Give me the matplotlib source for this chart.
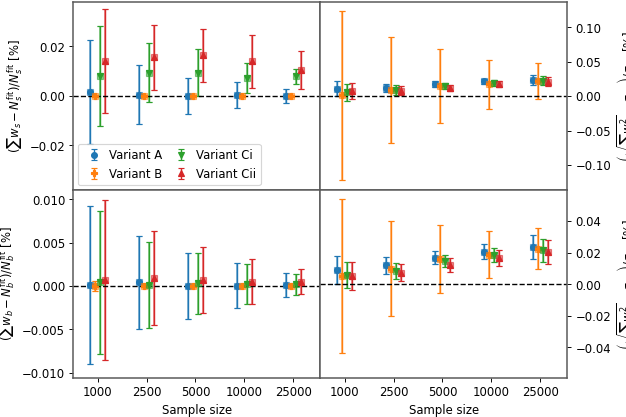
import numpy as np
import matplotlib
matplotlib.use("Agg")
import matplotlib.pyplot as plt

sample_sizes = ["1000", "2500", "5000", "10000", "25000"]
variants = ["Variant A", "Variant B", "Variant Ci", "Variant Cii"]
colors = ["#1f77b4", "#ff7f0e", "#2ca02c", "#d62728"]
markers = ["o", "P", "v", "^"]

# top left: signal yield bias
sig_yield = [
    [0.0016, 0.0005, 0.0000, 0.0003, -0.0001],
    [0.0000, 0.0000, 0.0000, 0.0000, 0.0000],
    [0.0080, 0.0093, 0.0092, 0.0073, 0.0078],
    [0.0140, 0.0155, 0.0163, 0.0139, 0.0105],
]
sig_yield_err = [
    [0.0210, 0.0119, 0.0073, 0.0053, 0.0028],
    [0.0005, 0.0003, 0.0002, 0.0002, 0.0001],
    [0.0201, 0.0119, 0.0095, 0.0061, 0.0032],
    [0.0210, 0.0132, 0.0108, 0.0107, 0.0076],
]

# bottom left: background yield bias
bkg_yield = [
    [0.0001, 0.0004, 0.0000, 0.0000, 0.0001],
    [0.0000, 0.0000, 0.0000, 0.0000, 0.0000],
    [0.0004, 0.0001, 0.0003, 0.0002, 0.0002],
    [0.0007, 0.0009, 0.0007, 0.0005, 0.0005],
]
bkg_yield_err = [
    [0.0091, 0.0054, 0.0038, 0.0026, 0.00135],
    [0.0006, 0.0001, 0.0001, 0.0001, 0.0001],
    [0.0082, 0.0050, 0.0035, 0.0023, 0.0012],
    [0.0092, 0.0054, 0.0038, 0.0026, 0.0014],
]

# top right: signal uncertainty bias
sig_unc = [
    [0.0107, 0.0122, 0.0170, 0.0215, 0.0234],
    [0.0010, 0.0093, 0.0146, 0.0170, 0.0215],
    [0.0054, 0.0093, 0.0146, 0.0190, 0.0224],
    [0.0073, 0.0078, 0.0117, 0.0170, 0.0210],
]
sig_unc_err = [
    [0.0107, 0.0056, 0.0043, 0.0037, 0.0070],
    [0.1230, 0.0770, 0.0540, 0.0360, 0.0260],
    [0.0120, 0.0070, 0.0045, 0.0042, 0.0070],
    [0.0110, 0.0065, 0.0040, 0.0044, 0.0066],
]

# bottom right: background uncertainty bias
bkg_unc = [
    [0.0091, 0.0119, 0.0169, 0.0205, 0.0235],
    [0.0053, 0.0099, 0.0159, 0.0188, 0.0224],
    [0.0059, 0.0085, 0.0146, 0.0184, 0.0214],
    [0.0053, 0.0074, 0.0123, 0.0165, 0.0203],
]
bkg_unc_err = [
    [0.0090, 0.0055, 0.0044, 0.0047, 0.0076],
    [0.0487, 0.0300, 0.0213, 0.0150, 0.0130],
    [0.0083, 0.0052, 0.0040, 0.0046, 0.0075],
    [0.0090, 0.0056, 0.0046, 0.0049, 0.0076],
]

offsets = [-0.15, -0.05, 0.05, 0.15]

fig, axes = plt.subplots(2, 2, figsize=(7.5, 5), dpi=626 / 7.5, sharex=True)
fig.subplots_adjust(left=0.117, right=0.906, top=0.995, bottom=0.094,
                    wspace=0, hspace=0)

panels = [
    (axes[0, 0], sig_yield, sig_yield_err, (-0.038, 0.038), [-0.02, 0.0, 0.02], "{:.2f}",
     r"$(\sum w_s - N_s^{\mathrm{fit}})/N_s^{\mathrm{fit}}$ [%]"),
    (axes[1, 0], bkg_yield, bkg_yield_err, (-0.0106, 0.0111), [-0.01, -0.005, 0.0, 0.005, 0.01], "{:.3f}",
     r"$(\sum w_b - N_b^{\mathrm{fit}})/N_b^{\mathrm{fit}}$ [%]"),
    (axes[0, 1], sig_unc, sig_unc_err, (-0.136, 0.137), [-0.10, -0.05, 0.0, 0.05, 0.10], "{:.2f}",
     r"$\left(\sqrt{\sum w_s^2} - \sigma_{\mathrm{eff}}\right)/\sigma_{\mathrm{eff}}$ [%]"),
    (axes[1, 1], bkg_unc, bkg_unc_err, (-0.0592, 0.0598), [-0.04, -0.02, 0.0, 0.02, 0.04], "{:.2f}",
     r"$\left(\sqrt{\sum w_b^2} - \sigma_{\mathrm{eff}}\right)/\sigma_{\mathrm{eff}}$ [%]"),
]

x = np.arange(len(sample_sizes))
for ax, vals, errs, ylim, yticks, fmt, ylabel in panels:
    for i, name in enumerate(variants):
        xi = x + offsets[i]
        # lighter square overlay
        ax.errorbar(xi, vals[i], yerr=errs[i], fmt="s", ms=5, capsize=2.5,
                    color=colors[i], alpha=0.55, elinewidth=1.6)
        ax.errorbar(xi, vals[i], yerr=errs[i], fmt=markers[i], ms=5, capsize=2.5,
                    color=colors[i], elinewidth=1.2, label=name)
    ax.axhline(0, color="black", linestyle="--", linewidth=1.2)
    ax.set_ylim(*ylim)
    ax.set_yticks(yticks)
    ax.set_yticklabels([fmt.format(t).replace("-", "\u2212") for t in yticks])
    ax.set_ylabel(ylabel)
    for sp in ax.spines.values():
        sp.set_color("0.35")
        sp.set_linewidth(1.3)

for ax in axes[:, 1]:
    ax.yaxis.tick_right()
    ax.yaxis.set_label_position("right")

axes[0, 0].set_xlim(-0.5, 4.55)
axes[1, 0].set_xticks(x)
axes[1, 0].set_xticklabels(sample_sizes)
axes[1, 1].set_xticks(x)
axes[1, 1].set_xticklabels(sample_sizes)
axes[1, 0].set_xlabel("Sample size")
axes[1, 1].set_xlabel("Sample size")

axes[0, 0].legend(loc="lower left", ncol=2, handletextpad=0.3,
                  columnspacing=0.6, borderaxespad=0.4)

fig.savefig("out.png", dpi=626 / 7.5)
